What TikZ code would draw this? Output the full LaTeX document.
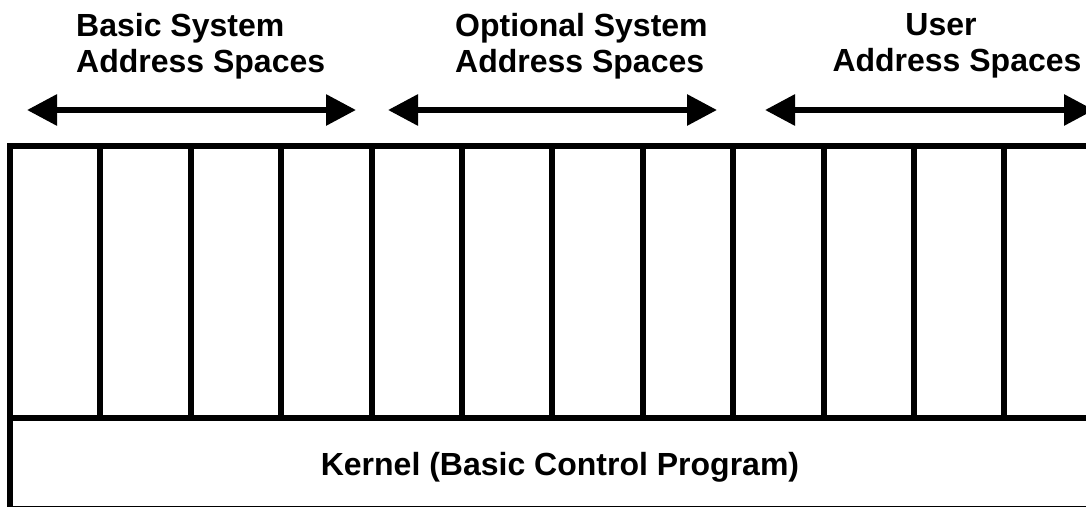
\documentclass[tikz,border=0pt]{standalone}
\usepackage{fontspec}
\setmainfont{Liberation Sans}
\usetikzlibrary{arrows.meta}
\tikzset{
  heavy/.style={line width=6pt},
  span/.style={heavy,{Triangle[length=30pt,width=30pt]}-{Triangle[length=30pt,width=30pt]}},
  caption/.style={inner sep=0pt,font=\fontsize{32}{36}\selectfont\bfseries},
}
% one double-headed arrow over a group of slots
\newcommand{\spanarrow}[2]{
  \coordinate (#1-l) at (#2,110);
  \coordinate (#1-r) at (#2+329,110);
  \draw[span] (#1-l) -- (#1-r);
}

\begin{document}
\begin{tikzpicture}[x=1pt,y=-1pt]
  \useasboundingbox (0,0) rectangle (1086,506);
  \clip (0,0) rectangle (1086,506);

  % memory: twelve address space slots above the kernel
  \draw[heavy] (10,146) rectangle (1095,508.5);
  \draw[heavy] (10,418) -- (1095,418);
  \foreach \i in {1,...,11}{
    \draw[heavy] (10+\i*90.4,146) -- (10+\i*90.4,418);
  }

  \spanarrow{basic}{27}
  \spanarrow{optional}{388}
  \spanarrow{user}{765}

  \node[caption,align=left,anchor=north west] (basic) at (76,13) {Basic System\\Address Spaces};
  \node[caption,align=left,anchor=north west] (optional) at (455,13) {Optional System\\Address Spaces};
  \node[caption,align=center,anchor=north] (user) at (957,13) {User\hspace*{32pt}\\Address Spaces};
  \node[caption,anchor=base] (kernel) at (560,475) {Kernel (Basic Control Program)};
\end{tikzpicture}
\end{document}
